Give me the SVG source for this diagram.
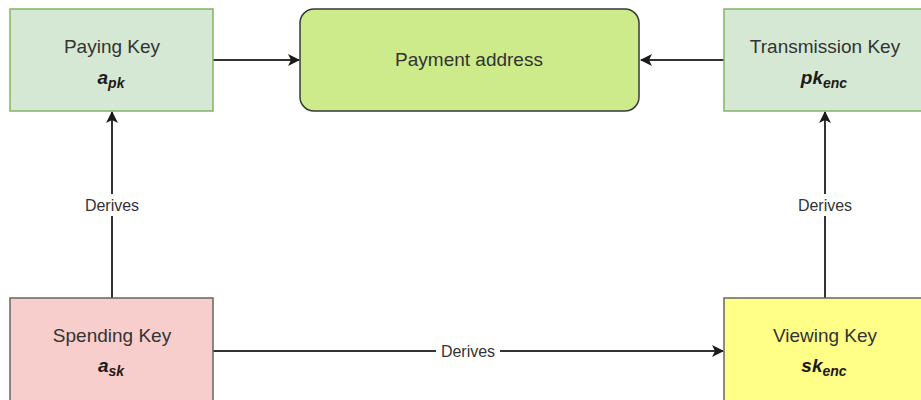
<svg xmlns="http://www.w3.org/2000/svg" width="921" height="400" viewBox="0 0 921 400">
<style>
.lbl{font-family:"Liberation Sans",Arial,sans-serif;font-size:19px;fill:#333333;text-anchor:middle}
.sym{font-weight:bold;font-style:italic;fill:#1a1a1a}
.sub{font-size:14px}
.edge{stroke:#333333;stroke-width:2;fill:none}
.elbl{font-family:"Liberation Sans",Arial,sans-serif;font-size:16px;fill:#333333;text-anchor:middle}
.ebg{fill:#ffffff}
</style>
<defs>
<marker id="arr" viewBox="0 0 12 12" refX="11" refY="6" markerWidth="12" markerHeight="12" markerUnits="userSpaceOnUse" orient="auto">
<path d="M0,0 L12,6 L0,12 L3,6 Z" fill="#1a1a1a"/>
</marker>
</defs>
<g id="connectors">
<line class="edge" x1="213" y1="60" x2="299" y2="60" marker-end="url(#arr)"/>
<line class="edge" x1="724" y1="60" x2="641" y2="60" marker-end="url(#arr)"/>
<line class="edge" x1="112" y1="298" x2="112" y2="112" marker-end="url(#arr)"/>
<line class="edge" x1="825" y1="298" x2="825" y2="112" marker-end="url(#arr)"/>
<line class="edge" x1="213" y1="351" x2="723" y2="351" marker-end="url(#arr)"/>
<rect class="ebg" x="80" y="194" width="64" height="22"/>
<text class="elbl" x="112" y="211">Derives</text>
<rect class="ebg" x="793" y="194" width="64" height="22"/>
<text class="elbl" x="825" y="211">Derives</text>
<rect class="ebg" x="436" y="340" width="64" height="22"/>
<text class="elbl" x="468" y="357">Derives</text>
</g>
<g id="paying-key">
<rect x="10" y="9" width="203" height="102" fill="#d5e8d4" stroke="#82b366" stroke-width="1.5"/>
<text class="lbl" x="112" y="53">Paying Key</text>
<text class="lbl" x="111" y="84"><tspan class="sym">a</tspan><tspan class="sym sub" dy="4">pk</tspan></text>
</g>
<g id="payment-address">
<rect x="300" y="9" width="339" height="102" rx="14" ry="14" fill="#cdeb8b" stroke="#36393d" stroke-width="1.5"/>
<text class="lbl" x="469" y="66">Payment address</text>
</g>
<g id="transmission-key">
<rect x="724" y="9" width="210" height="102" fill="#d5e8d4" stroke="#82b366" stroke-width="1.5"/>
<text class="lbl" x="825" y="53">Transmission Key</text>
<text class="lbl" x="824" y="84"><tspan class="sym">pk</tspan><tspan class="sym sub" dy="4">enc</tspan></text>
</g>
<g id="spending-key">
<rect x="10" y="298" width="203" height="110" fill="#f8cecc" stroke="#666666" stroke-width="1.5"/>
<text class="lbl" x="112" y="342">Spending Key</text>
<text class="lbl" x="111" y="372"><tspan class="sym">a</tspan><tspan class="sym sub" dy="4">sk</tspan></text>
</g>
<g id="viewing-key">
<rect x="724" y="298" width="210" height="110" fill="#ffff88" stroke="#666666" stroke-width="1.5"/>
<text class="lbl" x="825" y="342">Viewing Key</text>
<text class="lbl" x="824" y="372"><tspan class="sym">sk</tspan><tspan class="sym sub" dy="4">enc</tspan></text>
</g>
</svg>
